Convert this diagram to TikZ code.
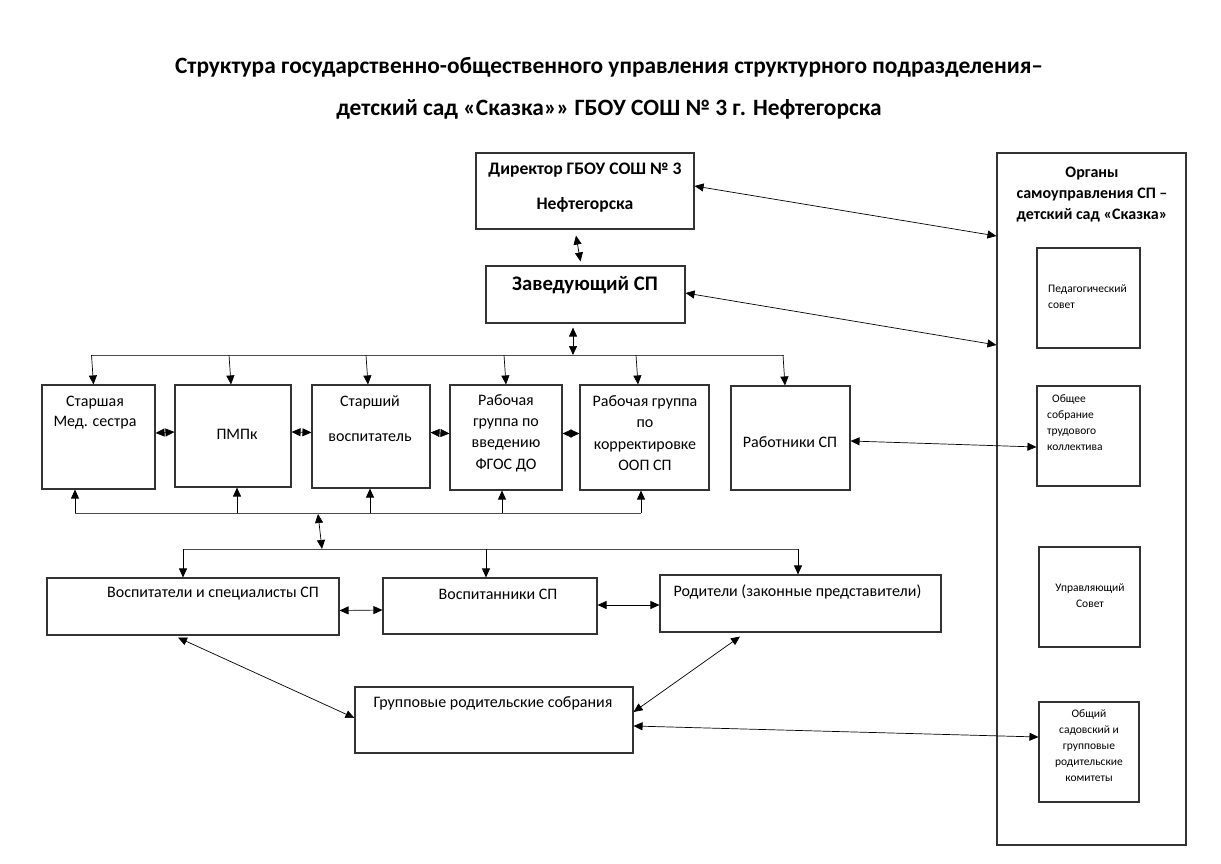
\documentclass[tikz,border=0pt]{standalone}
\usepackage{fontspec}
\setmainfont{Carlito}
\usetikzlibrary{arrows.meta}
\tikzset{
    box/.style={draw=black!80, line width=1.1pt, inner sep=0pt},
    txt/.style={inner sep=0pt, align=center, font=\fontsize{16}{20}\selectfont},
    small/.style={inner sep=0pt, align=left, font=\fontsize{11.5}{16}\selectfont},
    arr/.style={-{Triangle[length=9pt,width=8pt]}, line width=0.7pt},
    dbl/.style={{Triangle[length=9pt,width=8pt]}-{Triangle[length=9pt,width=8pt]}, line width=0.7pt},
    bus/.style={draw=black!70, line width=0.8pt}
}
\begin{document}
\begin{tikzpicture}[x=1pt, y=-1pt]
            \useasboundingbox (0,0) rectangle (1221,864);
            % Title
            \node[align=center, font=\fontsize{23.4}{42}\selectfont\bfseries] (title) at (609,88)
                {Структура государственно-общественного управления структурного подразделения–\\детский сад «Сказка»» ГБОУ СОШ № 3 г. Нефтегорска};

            % Nodes
            \node[box, minimum width=218, minimum height=76] (dir) at (585,191) {};
            \node[box, minimum width=199, minimum height=57] (zav) at (585.5,294.5) {};
            \node[box, minimum width=113, minimum height=104] (med) at (98.5,437) {};
            \node[box, minimum width=116, minimum height=102] (pmpk) at (233,436) {};
            \node[box, minimum width=118, minimum height=103] (stv) at (371,436.5) {};
            \node[box, minimum width=112, minimum height=105] (fgos) at (506,437.5) {};
            \node[box, minimum width=129, minimum height=105] (oop) at (644.5,437.5) {};
            \node[box, minimum width=119, minimum height=104] (rab) at (790.5,438) {};
            \node[box, minimum width=292, minimum height=57] (vsp) at (193,606.5) {};
            \node[box, minimum width=214, minimum height=56] (vnk) at (490,606) {};
            \node[box, minimum width=281, minimum height=57] (rod) at (800.5,603.5) {};
            \node[box, minimum width=278, minimum height=66] (grs) at (494,720) {};
            \node[box, minimum width=189, minimum height=692] (org) at (1091.5,499) {};
            \node[box, minimum width=103, minimum height=100] (ped) at (1088.5,298) {};
            \node[box, minimum width=103, minimum height=100] (obs) at (1088.5,436) {};
            \node[box, minimum width=101, minimum height=100] (upr) at (1089.5,597) {};
            \node[box, minimum width=100, minimum height=100] (kom) at (1089,752) {};

            % Texts
            \node[txt, font=\fontsize{17.6}{35}\selectfont\bfseries] (dir-t) at (585,188) {Директор ГБОУ СОШ № 3\\Нефтегорска};
            \node[txt, font=\fontsize{20.7}{24}\selectfont\bfseries] (zav-t) at (585,285) {Заведующий СП};
            \node[txt] (med-t) at (95,413) {Старшая\\Мед. сестра};
            \node[txt] (pmpk-t) at (237,434) {ПМПк};
            \node[txt, font=\fontsize{16}{35}\selectfont] (stv-t) at (370,418.5) {Старший\\воспитатель};
            \node[txt, font=\fontsize{16}{21.3}\selectfont] (fgos-t) at (506,433) {Рабочая\\группа по\\введению\\ФГОС ДО};
            \node[txt, font=\fontsize{16}{21.3}\selectfont] (oop-t) at (645,433) {Рабочая группа\\по\\корректировке\\ООП СП};
            \node[txt] (rab-t) at (790,442) {Работники СП};
            \node[txt] (vsp-t) at (213,594) {Воспитатели и специалисты СП};
            \node[txt] (vnk-t) at (498,594) {Воспитанники СП};
            \node[txt] (rod-t) at (797.5,592) {Родители (законные представители)};
            \node[txt] (grs-t) at (493,703) {Групповые родительские собрания};
            \node[txt, font=\fontsize{16}{21}\selectfont\bfseries] (org-t) at (1092,195) {Органы\\самоуправления СП –\\детский сад «Сказка»};
            \node[small, anchor=west] (ped-t) at (1048,296.5) {Педагогический\\совет};
            \node[small, anchor=west] (obs-t) at (1047,422.5) {\hspace{5pt}Общее\\собрание\\трудового\\коллектива};
            \node[small, align=center] (upr-t) at (1090,596) {Управляющий\\Совет};
            \node[small, align=center] (kom-t) at (1089,746) {Общий\\садовский и\\групповые\\родительские\\комитеты};

            % Buses
            \coordinate (t-l) at (92,355);
            \coordinate (t-r) at (784,355);
            \coordinate (b-l) at (75,513);
            \coordinate (b-r) at (641,513);
            \coordinate (c-l) at (183,549);
            \coordinate (c-r) at (798,549);
            \draw[bus] (t-l) -- (t-r);
            \draw[bus] (b-l) -- (b-r);
            \draw[bus] (c-l) -- (c-r);

            % Edges
            \draw[dbl] ([xshift=-9pt,yshift=-6pt]dir.south) -- ([xshift=-5pt,yshift=4pt]zav.north);
            \draw[dbl] ([xshift=-12.5pt,yshift=-4pt]zav.south) -- (573,355);
            \draw[dbl] ([yshift=5pt]dir.east) -- ([yshift=263pt]org.west);
            \draw[dbl] ([yshift=1.5pt]zav.east) -- ([yshift=154pt]org.west);

            \foreach \n/\s in {med/-5,pmpk/-2,stv/-3,fgos/0,oop/-6.5,rab/-5.5} {
                \draw[arr] ([xshift=\s pt-2pt]\n.north |- t-l) -- ([xshift=\s pt]\n.north);
            }
            \foreach \a/\b in {med/pmpk,pmpk/stv,stv/fgos,fgos/oop} {
                \draw[dbl] ([yshift=4pt]\a.east) -- ([yshift=4pt]\b.west);
            }
            \foreach \n/\s in {med/-23.5,pmpk/4,stv/-1,fgos/-4,oop/-3.5} {
                \draw[arr] ([xshift=\s pt]\n.south |- b-l) -- ([xshift=\s pt]\n.south);
            }
            \draw[dbl] (318,514) -- (322,549);
            \foreach \n/\s in {vsp/-10,vnk/-4,rod/-2.5} {
                \draw[arr] ([xshift=\s pt]\n.north |- c-l) -- ([xshift=\s pt]\n.north);
            }

            \draw[dbl] ([yshift=-4pt]vsp.east) -- ([yshift=-4pt]vnk.west);
            \draw[dbl] ([yshift=1pt]vnk.east) -- ([yshift=-1.5pt]rod.west);
            \draw[dbl] ([xshift=-15pt,yshift=-2pt]vsp.south) -- ([yshift=2pt]grs.west);
            \draw[dbl] ([xshift=-60.5pt,yshift=-4pt]rod.south) -- ([yshift=8pt]grs.east);
            \draw[dbl] ([yshift=-6pt]grs.east) -- ([yshift=15pt]kom.west);
            \draw[dbl] ([yshift=-3pt]rab.east) -- ([yshift=-11pt]obs.west);
        \end{tikzpicture}
\end{document}
